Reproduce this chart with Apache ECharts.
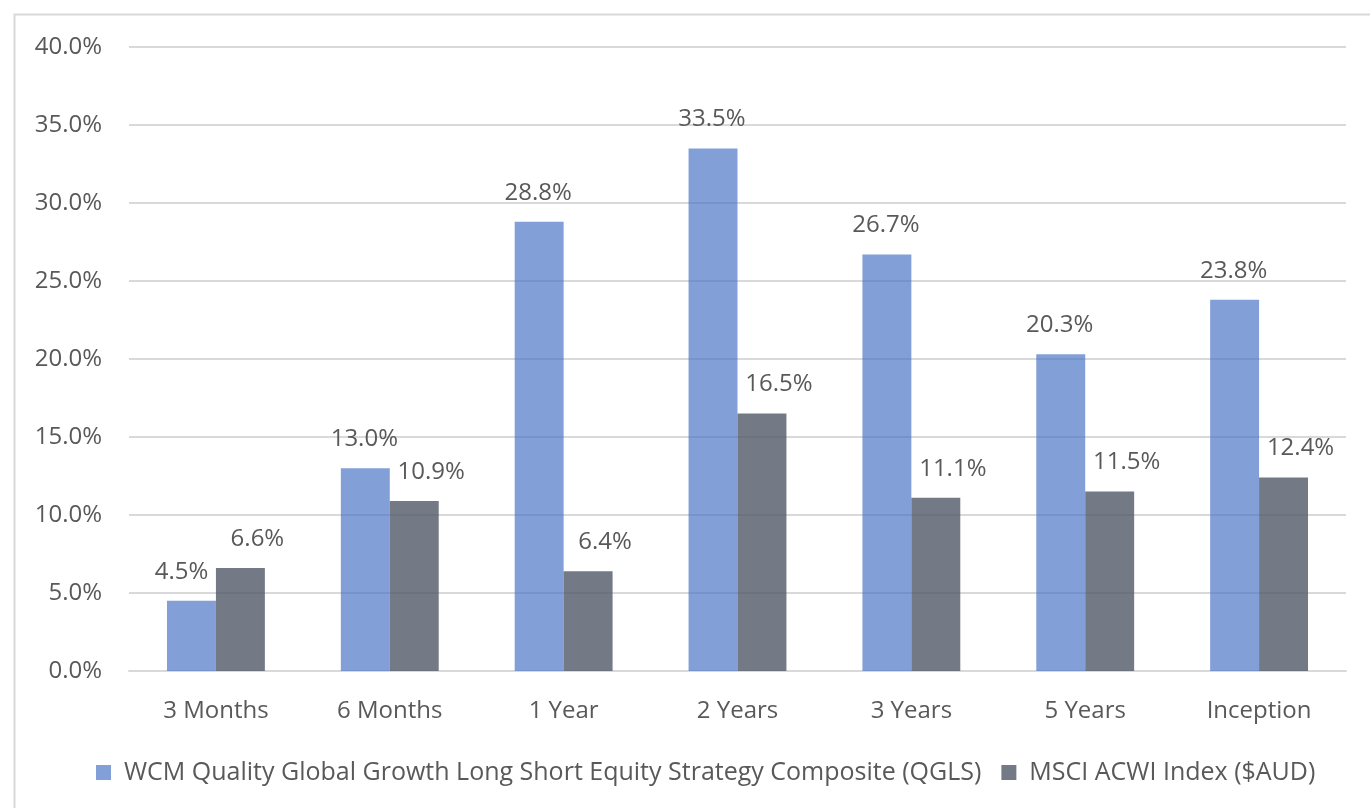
<!DOCTYPE html>
<html>
<head>
<meta charset="utf-8">
<script src="https://cdn.jsdelivr.net/npm/echarts@6/dist/echarts.min.js"></script>
<style>
html,body{margin:0;padding:0;background:#fff;}
#chart{width:1370px;height:808px;}
</style>
</head>
<body>
<div id="chart"></div>
<script>
const categories = ['3 Months', '6 Months', '1 Year', '2 Years', '3 Years', '5 Years', 'Inception'];
const seriesNames = ['WCM Quality Global Growth Long Short Equity Strategy Composite (QGLS)', 'MSCI ACWI Index ($AUD)'];
const qglsValues = [4.5, 13.0, 28.8, 33.5, 26.7, 20.3, 23.8];
const msciValues = [6.6, 10.9, 6.4, 16.5, 11.1, 11.5, 12.4];
const yTicks = [0, 5, 10, 15, 20, 25, 30, 35, 40];

const FONT = '"Open Sans", sans-serif';
const TXT = '#595959';
const FS = 24;

const chart = echarts.init(document.getElementById('chart'), null, {renderer: 'canvas'});

const qglsData = qglsValues.map((v, i) => i === 0 ? {value: v, label: {offset: [-10, 0]}} : v);

chart.setOption({
  animation: false,
  backgroundColor: '#ffffff',
  graphic: [{
    type: 'rect', left: 12, top: 12, silent: true,
    shape: {width: 1400, height: 900},
    style: {fill: 'none', stroke: '#d9d9d9', lineWidth: 2}
  }],
  grid: {left: 129, right: 24, top: 47, bottom: 137, containLabel: false},
  legend: {
    left: 96, top: 760, padding: 0,
    itemWidth: 15, itemHeight: 15, itemGap: 20,
    icon: 'rect',
    data: seriesNames,
    textStyle: {fontFamily: FONT, fontSize: 25, color: TXT, padding: [0, 0, 0, 8]}
  },
  xAxis: {
    type: 'category',
    data: categories,
    axisLine: {lineStyle: {color: '#d9d9d9', width: 2}},
    axisTick: {show: false},
    axisLabel: {fontFamily: FONT, fontSize: FS, color: TXT, margin: 28}
  },
  yAxis: {
    type: 'value',
    min: yTicks[0], max: yTicks[yTicks.length - 1], interval: 5,
    axisLine: {show: false},
    axisTick: {show: false},
    splitLine: {lineStyle: {color: '#d9d9d9', width: 2}},
    axisLabel: {fontFamily: FONT, fontSize: FS, color: TXT, margin: 27,
      formatter: v => v.toFixed(1) + '%'}
  },
  series: [
    {
      name: seriesNames[0], type: 'bar', data: qglsData,
      barGap: '0%', barCategoryGap: '43.7%',
      itemStyle: {color: 'rgba(68,114,196,0.67)'},
      label: {show: true, position: 'top', distance: 17, offset: [-1, 0],
        fontFamily: FONT, fontSize: FS, color: TXT,
        formatter: p => p.value.toFixed(1) + '%'}
    },
    {
      name: seriesNames[1], type: 'bar', data: msciValues,
      itemStyle: {color: 'rgba(80,89,102,0.8)'},
      label: {show: true, position: 'top', distance: 17, offset: [17, 0],
        fontFamily: FONT, fontSize: FS, color: TXT,
        formatter: p => p.value.toFixed(1) + '%'}
    }
  ]
});
</script>
</body>
</html>
